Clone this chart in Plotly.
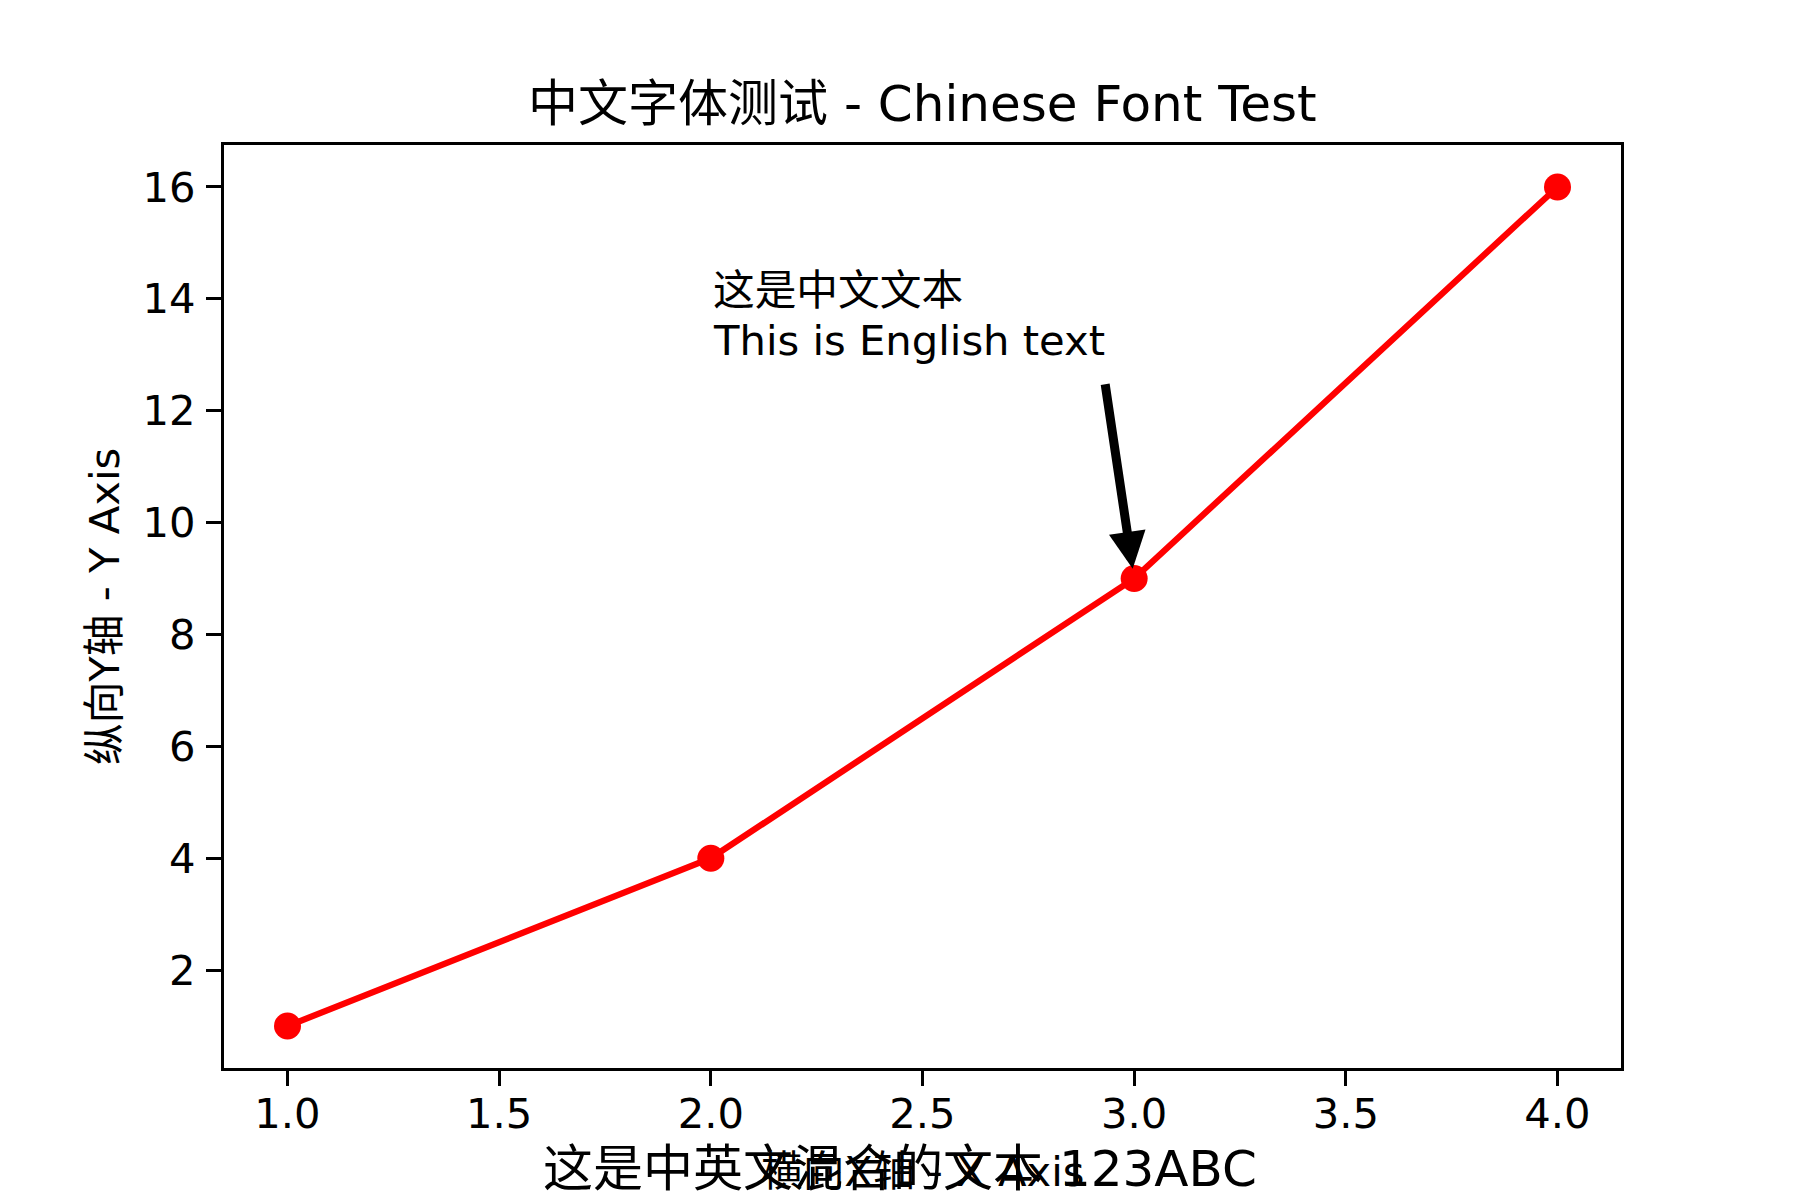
import plotly.graph_objects as go

# data
x_vals = [1, 2, 3, 4]
y_vals = [1, 4, 9, 16]
x_ticks = [1.0, 1.5, 2.0, 2.5, 3.0, 3.5, 4.0]
x_ticklabels = ["1.0", "1.5", "2.0", "2.5", "3.0", "3.5", "4.0"]
y_ticks = [2, 4, 6, 8, 10, 12, 14, 16]
y_ticklabels = ["2", "4", "6", "8", "10", "12", "14", "16"]

title_text = "中文字体测试 - Chinese Font Test"
xlabel_text = "横向X轴 - X Axis"
ylabel_text = "纵向Y轴 - Y Axis"
note_line1 = "这是中文文本"
note_line2 = "This is English text"
note_xy = (3, 9)
note_text_xy = (2, 13)
note_arrow_tail = (2.931, 12.5)
footer_text = "这是中英文混合的文本 123ABC"

FONT = "DejaVu Sans, Noto Sans CJK SC, sans-serif"

fig = go.Figure()
fig.add_trace(go.Scatter(
    x=x_vals, y=y_vals, mode="lines+markers",
    line=dict(color="#ff0000", width=6.25),
    marker=dict(color="#ff0000", size=27, line=dict(width=0)),
    showlegend=False, cliponaxis=False,
))

axis_common = dict(
    showline=True, linecolor="black", linewidth=3.3, mirror=True,
    ticks="outside", ticklen=15, tickwidth=3.3, tickcolor="black",
    showgrid=False, zeroline=False,
    tickfont=dict(family=FONT, size=41.7, color="black"),
)
fig.update_xaxes(range=[0.85, 4.15], tickmode="array", tickvals=x_ticks,
                 ticktext=x_ticklabels, ticklabelstandoff=-8, **axis_common)
fig.update_yaxes(range=[0.25, 16.75], tickmode="array", tickvals=y_ticks,
                 ticktext=y_ticklabels, ticklabelstandoff=2, **axis_common)

annotations = [
    # title
    dict(text=title_text, xref="paper", yref="paper", x=0.5, y=1,
         xanchor="center", yanchor="bottom", yshift=10, showarrow=False,
         font=dict(family=FONT, size=50, color="black")),
    # x label
    dict(text=xlabel_text, xref="paper", yref="paper", x=0.5, y=0,
         xanchor="center", yanchor="top", yshift=-77, showarrow=False,
         font=dict(family=FONT, size=41.7, color="black")),
    # y label
    dict(text=ylabel_text, xref="paper", yref="paper", x=0, y=0.5,
         xanchor="right", yanchor="middle", xshift=-93, textangle=-90,
         showarrow=False, font=dict(family=FONT, size=41.7, color="black")),
    # arrow
    dict(text="", x=note_xy[0], y=note_xy[1], xref="x", yref="y",
         ax=note_arrow_tail[0], ay=note_arrow_tail[1], axref="x", ayref="y",
         showarrow=True, arrowhead=2, arrowwidth=9, arrowsize=0.82,
         arrowcolor="black", standoff=10),
    # note text, first line
    dict(text=note_line1, x=note_text_xy[0], y=note_text_xy[1],
         xref="x", yref="y", xanchor="left", yanchor="bottom", align="left",
         yshift=38, showarrow=False,
         font=dict(family=FONT, size=41.7, color="black")),
    # note text, second line
    dict(text=note_line2, x=note_text_xy[0], y=note_text_xy[1],
         xref="x", yref="y", xanchor="left", yanchor="bottom", align="left",
         yshift=-12, showarrow=False,
         font=dict(family=FONT, size=41.7, color="black")),
    # footer
    dict(text=footer_text, xref="paper", yref="paper", x=(900 - 224) / 1397, y=0,
         xanchor="center", yanchor="bottom", yshift=-132, showarrow=False,
         font=dict(family=FONT, size=50, color="black")),
]

fig.update_layout(
    width=1800, height=1200,
    margin=dict(l=224, r=179, t=145, b=132),
    paper_bgcolor="white", plot_bgcolor="white",
    annotations=annotations,
    font=dict(family=FONT, color="black"),
)

fig.write_html("out.html")
